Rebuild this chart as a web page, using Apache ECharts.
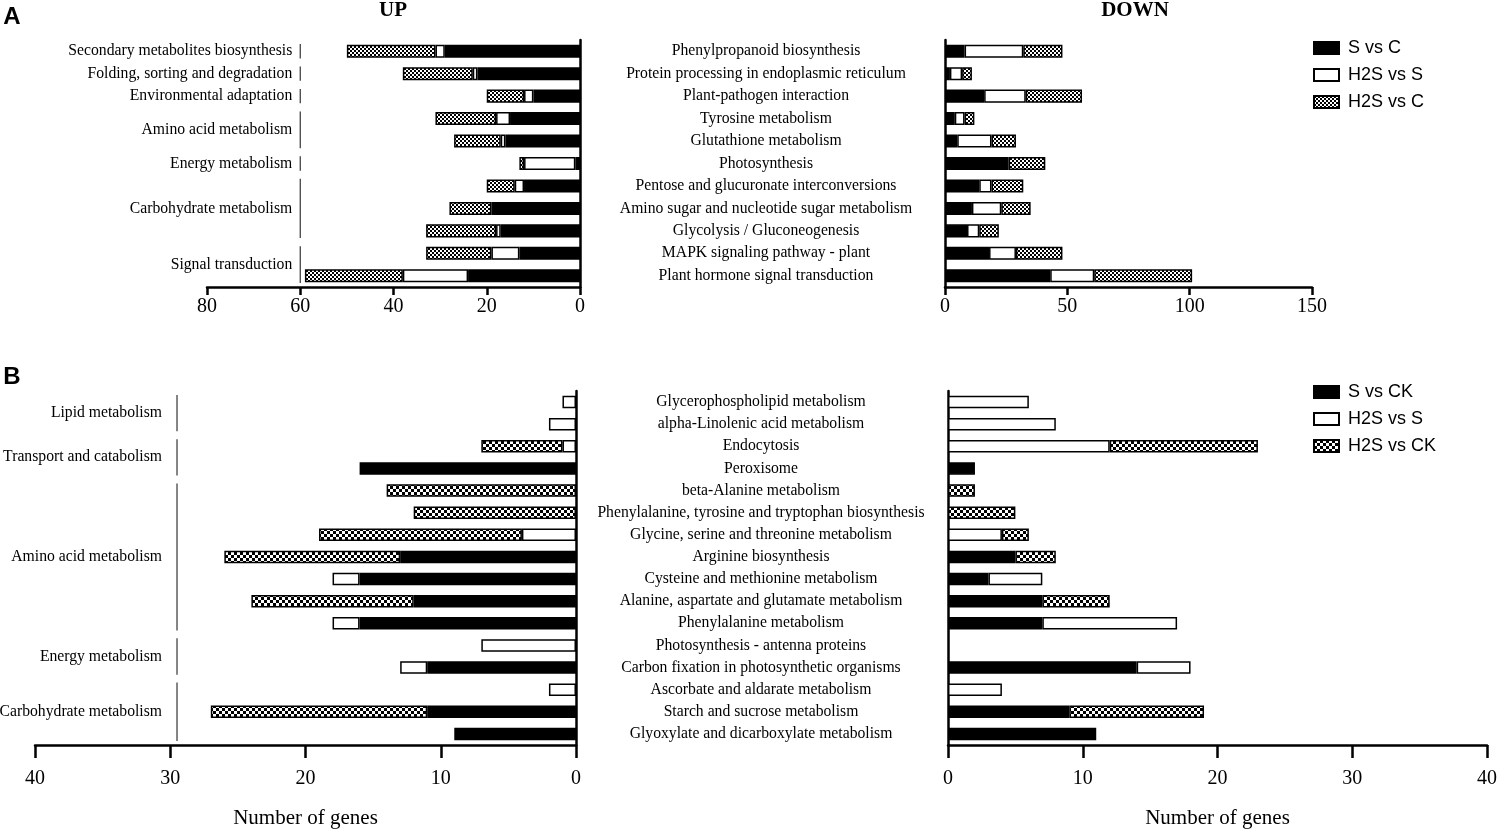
<!DOCTYPE html>
<html><head><meta charset="utf-8">
<script src="https://cdn.jsdelivr.net/npm/echarts/dist/echarts.min.js"></script>
<style>html,body{margin:0;padding:0;background:#fff}#c{width:1500px;height:831px}</style>
</head><body><div id="c"></div>
<script>
// ---------- Panel A : UP (left) ----------
const upA_S      = [29, 22, 10, 15, 16, 1, 12, 19, 17, 13, 24];
const upA_H2S_S  = [2, 1, 2, 3, 1, 11, 2, 0, 1, 6, 14];
const upA_H2S_C  = [19, 15, 8, 13, 10, 1, 6, 9, 15, 14, 21];
const upA_groups = [
  ['Secondary metabolites biosynthesis', 0, 0],
  ['Folding, sorting and degradation', 1, 1],
  ['Environmental adaptation', 2, 2],
  ['Amino acid metabolism', 3, 4],
  ['Energy metabolism', 5, 5],
  ['Carbohydrate metabolism', 6, 8],
  ['Signal transduction', 9, 10]
];
// ---------- Panel A : DOWN (right) ----------
const downA_categories = ['Phenylpropanoid biosynthesis', 'Protein processing in endoplasmic reticulum',
  'Plant-pathogen interaction', 'Tyrosine metabolism', 'Glutathione metabolism', 'Photosynthesis',
  'Pentose and glucuronate interconversions', 'Amino sugar and nucleotide sugar metabolism',
  'Glycolysis / Gluconeogenesis', 'MAPK signaling pathway - plant', 'Plant hormone signal transduction'];
const downA_S     = [8, 2, 16, 4, 5, 26, 14, 11, 9, 18, 43];
const downA_H2S_S = [24, 5, 17, 4, 14, 0, 5, 12, 5, 11, 18];
const downA_H2S_C = [16, 4, 23, 4, 10, 15, 13, 12, 8, 19, 40];
const seriesNamesA = ['S vs C', 'H2S vs S', 'H2S vs C'];
const ticksA_up = [0, 80, 20];     // min, max, interval
const ticksA_down = [0, 150, 50];

// ---------- Panel B ----------
const B_categories = ['Glycerophospholipid metabolism', 'alpha-Linolenic acid metabolism', 'Endocytosis',
  'Peroxisome', 'beta-Alanine metabolism', 'Phenylalanine, tyrosine and tryptophan biosynthesis',
  'Glycine, serine and threonine metabolism', 'Arginine biosynthesis', 'Cysteine and methionine metabolism',
  'Alanine, aspartate and glutamate metabolism', 'Phenylalanine metabolism', 'Photosynthesis - antenna proteins',
  'Carbon fixation in photosynthetic organisms', 'Ascorbate and aldarate metabolism',
  'Starch and sucrose metabolism', 'Glyoxylate and dicarboxylate metabolism'];
const upB_S       = [0, 0, 0, 16, 0, 0, 0, 13, 16, 12, 16, 0, 11, 0, 11, 9];
const upB_H2S_S   = [1, 2, 1, 0, 0, 0, 4, 0, 2, 0, 2, 7, 2, 2, 0, 0];
const upB_H2S_CK  = [0, 0, 6, 0, 14, 12, 15, 13, 0, 12, 0, 0, 0, 0, 16, 0];
const downB_S      = [0, 0, 0, 2, 0, 0, 0, 5, 3, 7, 7, 0, 14, 0, 9, 11];
const downB_H2S_S  = [6, 8, 12, 0, 0, 0, 4, 0, 4, 0, 10, 0, 4, 4, 0, 0];
const downB_H2S_CK = [0, 0, 11, 0, 2, 5, 2, 3, 0, 5, 0, 0, 0, 0, 10, 0];
const upB_groups = [
  ['Lipid metabolism', 0, 1],
  ['Transport and catabolism', 2, 3],
  ['Amino acid metabolism', 4, 10],
  ['Energy metabolism', 11, 12],
  ['Carbohydrate metabolism', 13, 15]
];
const seriesNamesB = ['S vs CK', 'H2S vs S', 'H2S vs CK'];
const ticksB = [0, 40, 10];
const axisNameB = 'Number of genes';

// ---------- helpers ----------
const SERIF = '"Liberation Serif", "Times New Roman", serif';
const SANS = '"Liberation Sans", Arial, sans-serif';
const LABEL_SIZE = 15.7;
function makePattern(sq) {
  const c = document.createElement('canvas');
  c.width = c.height = sq * 2;
  const ctx = c.getContext('2d');
  ctx.fillStyle = '#fff'; ctx.fillRect(0, 0, sq * 2, sq * 2);
  ctx.fillStyle = '#000'; ctx.fillRect(0, 0, sq, sq); ctx.fillRect(sq, sq, sq, sq);
  return c;
}
const patA = { image: makePattern(2), repeat: 'repeat' };
const patB = { image: makePattern(3), repeat: 'repeat' };
const nz = arr => arr.map(v => (v === 0 ? null : v));

function barSet(names, vals, idx, stack, pat, bw) {
  const fills = ['#000', '#fff', pat];
  return names.map((n, k) => ({
    name: n, type: 'bar', stack: stack, xAxisIndex: idx, yAxisIndex: idx,
    data: nz(vals[k]), barWidth: bw,
    itemStyle: { color: fills[k], borderColor: '#000', borderWidth: 1.5 },
    emphasis: { disabled: true }
  }));
}
function groupSeries(idx, groups, xVal, gap) {
  return {
    type: 'custom', xAxisIndex: idx, yAxisIndex: idx, silent: true, clip: false,
    data: groups.map(g => [xVal, g[1], g[2]]),
    encode: { x: 0, y: 1 },
    renderItem: (params, api) => {
      const p1 = api.coord([api.value(0), api.value(1)]);
      const p2 = api.coord([api.value(0), api.value(2)]);
      const band = api.size([0, 1])[1];
      const y1 = p1[1] - band * 0.32, y2 = p2[1] + band * 0.32;
      return { type: 'group', children: [
        { type: 'line', shape: { x1: p1[0], y1: y1, x2: p1[0], y2: y2 }, style: { stroke: '#333', lineWidth: 1.2 } },
        { type: 'text', style: { text: groups[params.dataIndex][0], x: p1[0] - gap, y: (y1 + y2) / 2,
            align: 'right', verticalAlign: 'middle', font: LABEL_SIZE + 'px ' + SERIF, fill: '#000' } }
      ]};
    }
  };
}
function xAxis(idx, t, inverse, tickLen, margin, name) {
  const o = {
    type: 'value', gridIndex: idx, min: t[0], max: t[1], interval: t[2], inverse: inverse,
    axisLine: { show: true, lineStyle: { color: '#000', width: 2.5 } },
    axisTick: { show: true, length: tickLen, lineStyle: { color: '#000', width: 2.5 } },
    axisLabel: { fontFamily: SERIF, fontSize: 20, color: '#000', margin: margin },
    splitLine: { show: false }
  };
  if (name) {
    o.name = name; o.nameLocation = 'middle'; o.nameGap = 63;
    o.nameTextStyle = { fontFamily: SERIF, fontSize: 21, color: '#000' };
  }
  return o;
}
function yAxis(idx, cats, position, showLabels, margin) {
  return {
    type: 'category', gridIndex: idx, data: cats, inverse: true, position: position,
    axisLine: { show: true, lineStyle: { color: '#000', width: 2.5 } },
    axisTick: { show: false },
    axisLabel: { show: showLabels, fontFamily: SERIF, fontSize: LABEL_SIZE, color: '#000', align: 'center', margin: margin }
  };
}
const rowIds = n => Array.from({ length: n }, (_, i) => 'r' + i);

const chart = echarts.init(document.getElementById('c'), null, { renderer: 'canvas' });
chart.setOption({
  animation: false,
  backgroundColor: '#fff',
  grid: [
    { left: 207, width: 373, top: 40, height: 247 },
    { left: 945, width: 367, top: 40, height: 247 },
    { left: 35, width: 541, top: 391, height: 354 },
    { left: 948, width: 540, top: 391, height: 354 }
  ],
  xAxis: [
    xAxis(0, ticksA_up, true, 8, 10),
    xAxis(1, ticksA_down, false, 8, 10),
    xAxis(2, ticksB, true, 13, 24, axisNameB),
    xAxis(3, ticksB, false, 13, 24, axisNameB)
  ],
  yAxis: [
    yAxis(0, rowIds(upA_S.length), 'right', false, 0),
    yAxis(1, downA_categories, 'left', true, 179),
    yAxis(2, B_categories, 'right', false, 0),
    yAxis(3, B_categories, 'left', true, 187)
  ],
  legend: [
    { data: seriesNamesA, orient: 'vertical', left: 1308, top: 34, itemWidth: 25, itemHeight: 12, itemGap: 9,
      icon: 'rect', selectedMode: false, textStyle: { fontFamily: SANS, fontSize: 18, color: '#000', padding: [0, 0, 0, 4] } },
    { data: seriesNamesB, orient: 'vertical', left: 1308, top: 378, itemWidth: 25, itemHeight: 12, itemGap: 9,
      icon: 'rect', selectedMode: false, textStyle: { fontFamily: SANS, fontSize: 18, color: '#000', padding: [0, 0, 0, 4] } }
  ],
  graphic: [
    { type: 'text', x: 12, y: 17, style: { text: 'A', font: 'bold 24px ' + SANS, fill: '#000', align: 'center', verticalAlign: 'middle' } },
    { type: 'text', x: 12, y: 377, style: { text: 'B', font: 'bold 24px ' + SANS, fill: '#000', align: 'center', verticalAlign: 'middle' } },
    { type: 'text', x: 393, y: 11, style: { text: 'UP', font: 'bold 21px ' + SERIF, fill: '#000', align: 'center', verticalAlign: 'middle' } },
    { type: 'text', x: 1135, y: 11, style: { text: 'DOWN', font: 'bold 21px ' + SERIF, fill: '#000', align: 'center', verticalAlign: 'middle' } }
  ],
  series: [].concat(
    barSet(seriesNamesA, [upA_S, upA_H2S_S, upA_H2S_C], 0, 'upA', patA, '58%'),
    barSet(seriesNamesA, [downA_S, downA_H2S_S, downA_H2S_C], 1, 'downA', patA, '58%'),
    barSet(seriesNamesB, [upB_S, upB_H2S_S, upB_H2S_CK], 2, 'upB', patB, '56%'),
    barSet(seriesNamesB, [downB_S, downB_H2S_S, downB_H2S_CK], 3, 'downB', patB, '56%'),
    [groupSeries(0, upA_groups, 60, 8), groupSeries(2, upB_groups, 29.5, 15)]
  )
});
</script></body></html>
